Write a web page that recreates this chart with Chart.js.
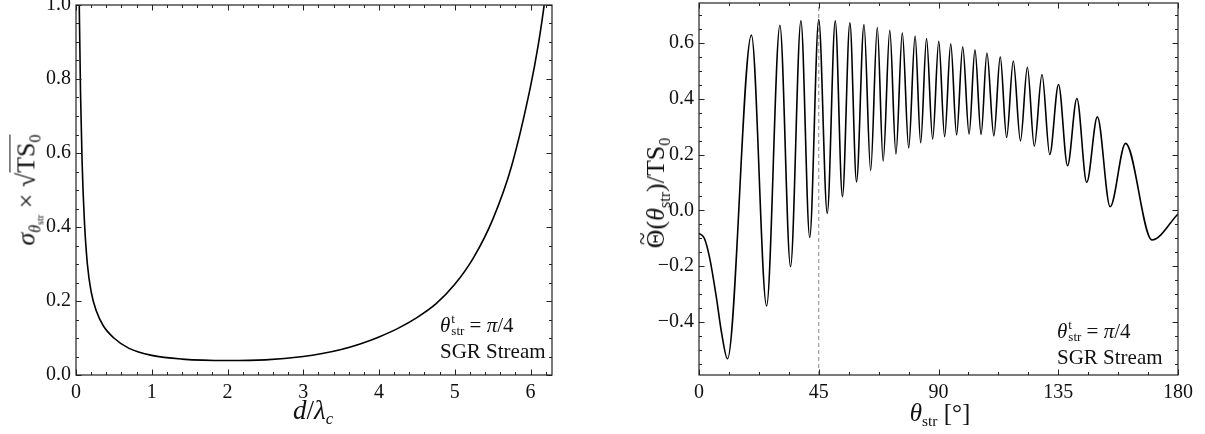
<!DOCTYPE html>
<html>
<head>
<meta charset="utf-8">
<script src="https://cdn.jsdelivr.net/npm/chart.js@4.4.1/dist/chart.umd.min.js"></script>
<style>
  body { margin: 0; background: #fff; }
  #wrap { position: relative; width: 1205px; height: 434px; overflow: hidden;
          font-family: "Liberation Serif", "DejaVu Serif", serif; color: #111; }
  canvas { position: absolute; top: 0; }
  .lbl { position: absolute; white-space: nowrap; transform: translate(-50%, -50%); font-size: 25px; line-height: 1; }
  .rot { transform: translate(-50%, -50%) rotate(-90deg); }
  .note { position: absolute; font-size: 21px; line-height: 26px; white-space: nowrap; text-align: left; }
  sub, sup { font-size: 62%; line-height: 0; }
  sub { vertical-align: -0.35em; }
  .ss { display: inline-block; vertical-align: -0.25em; font-size: 62%; line-height: 0.95; margin-left: 1px; }
  .ss span { display: block; }
  .rad { border-top: 1.2px solid #111; padding-top: 1px; }
  .tl { position: relative; display: inline-block; }
  .tl .t { position: absolute; left: 0.14em; top: -0.5em; font-size: 90%; }
</style>
</head>
<body>
<div id="wrap">
  <canvas id="sigmaChart" width="560" height="434" style="left:0"></canvas>
  <canvas id="thetaChart" width="605" height="434" style="left:600px"></canvas>

  <div class="lbl rot" style="left:27px; top:190px; font-size:26px;"><i>σ</i><sub><i>θ</i><sub>str</sub></sub> × √<span class="rad">TS<sub>0</sub></span></div>
  <div class="lbl" style="left:313px; top:410px; font-size:27px;"><i>d</i>/<i>λ</i><sub><i>c</i></sub></div>
  <div class="note" style="left:440px; top:312px;"><i>θ</i><span class="ss"><span>t</span><span>str</span></span> = <i>π</i>/4<br>SGR Stream</div>

  <div class="lbl rot" style="left:656px; top:193px; font-size:26px;"><span class="tl">Θ<span class="t">~</span></span>(<i>θ</i><sub>str</sub>)/TS<sub>0</sub></div>
  <div class="lbl" style="left:940px; top:412px;"><i>θ</i><sub>str</sub> [°]</div>
  <div class="note" style="left:1057px; top:318px;"><i>θ</i><span class="ss"><span>t</span><span>str</span></span> = <i>π</i>/4<br>SGR Stream</div>
</div>
<script>
// left panel: sigma vs d/lambda_c
const dValues = [0.035, 0.045, 0.06, 0.08, 0.11, 0.15, 0.2, 0.27, 0.36, 0.5, 0.7, 1.0, 1.4, 2.0, 2.5, 3.0, 3.25, 3.5, 3.75, 4.0, 4.25, 4.5, 4.75, 5.0, 5.25, 5.5, 5.75, 6.0, 6.1, 6.17, 6.25];
const sigmaValues = [1.15, 0.97, 0.76, 0.58, 0.42, 0.30, 0.225, 0.172, 0.133, 0.100, 0.072, 0.053, 0.043, 0.039, 0.041, 0.050, 0.058, 0.069, 0.084, 0.103, 0.126, 0.155, 0.192, 0.245, 0.318, 0.42, 0.565, 0.78, 0.89, 0.985, 1.11];
const dTicks = [0, 1, 2, 3, 4, 5, 6];
const sigmaTicks = [0, 0.2, 0.4, 0.6, 0.8, 1.0];

// right panel: Theta~ vs theta_str (deg)
const thetaValues = [0, 2, 4, 6.5, 8.5, 10.7, 19.7, 25.4, 30.4, 34.4, 38.3, 41.6, 45.0, 48.2, 51.2, 53.9, 56.7, 59.2, 62.0, 64.5,
  67.0, 69.2, 71.7, 74.0, 76.4, 78.8, 81.2, 83.3, 85.5, 87.8, 90.1, 92.3, 94.6, 96.8, 99.1, 101.5, 103.7, 106.0, 108.2, 110.8,
  113.2, 115.6, 118.1, 120.8, 123.4, 126.0, 128.9, 131.8, 135.1, 138.5, 142.0, 145.7, 149.7, 154.5, 160.3, 170.2, 180];
const tsValues = [-0.082, -0.10, -0.17, -0.31, -0.44, -0.532, 0.628, -0.343, 0.663, -0.202, 0.679, -0.097, 0.684, -0.011, 0.679, 0.049, 0.672, 0.102, 0.666, 0.143,
  0.655, 0.177, 0.645, 0.202, 0.636, 0.224, 0.625, 0.242, 0.616, 0.255, 0.606, 0.264, 0.597, 0.270, 0.586, 0.273, 0.575, 0.272, 0.564, 0.267,
  0.550, 0.261, 0.535, 0.249, 0.513, 0.230, 0.487, 0.200, 0.451, 0.160, 0.401, 0.100, 0.335, 0.013, 0.240, -0.106, -0.013];
const thetaTicks = [0, 45, 90, 135, 180];
const tsTicks = [-0.4, -0.2, 0.0, 0.2, 0.4, 0.6];
const markerTheta = 45;

const tickFont = { family: '"Liberation Serif", "DejaVu Serif", serif', size: 20 };

// inward ticks on all four sides + frame
const frameTicks = {
  id: 'frameTicks',
  afterDatasetsDraw(chart, args, o) {
    const { ctx, chartArea: a, scales: { x, y } } = chart;
    ctx.save();
    ctx.strokeStyle = '#222';
    ctx.lineWidth = 1;
    ctx.beginPath();
    const xs = (vals, len) => vals.forEach(v => {
      const p = Math.round(x.getPixelForValue(v)) + 0.5;
      ctx.moveTo(p, a.bottom); ctx.lineTo(p, a.bottom - len);
      ctx.moveTo(p, a.top); ctx.lineTo(p, a.top + len);
    });
    const ys = (vals, len) => vals.forEach(v => {
      const p = Math.round(y.getPixelForValue(v)) + 0.5;
      ctx.moveTo(a.left, p); ctx.lineTo(a.left + len, p);
      ctx.moveTo(a.right, p); ctx.lineTo(a.right - len, p);
    });
    const minor = (lo, hi, step) => {
      const out = [];
      for (let v = Math.ceil(lo / step) * step; v <= hi + 1e-9; v += step) out.push(v);
      return out;
    };
    xs(minor(x.min, x.max, o.xMinor), 3);
    ys(minor(y.min, y.max, o.yMinor), 3);
    xs(o.xMajor, 5.5);
    ys(o.yMajor, 5.5);
    ctx.stroke();
    ctx.lineWidth = 1.2;
    ctx.strokeRect(a.left, a.top, a.right - a.left, a.bottom - a.top);
    ctx.restore();
  }
};

function panel(id, datasets, o) {
  return new Chart(document.getElementById(id), {
    type: 'line',
    data: { datasets },
    options: {
      responsive: false,
      animation: false,
      events: [],
      layout: { padding: o.pad },
      plugins: {
        legend: { display: false },
        tooltip: { enabled: false },
        frameTicks: { xMajor: o.xTicks, yMajor: o.yTicks, xMinor: o.xMinor, yMinor: o.yMinor },
      },
      scales: {
        x: {
          type: 'linear', min: o.xMin, max: o.xMax,
          grid: { display: false, drawTicks: false }, border: { display: false },
          ticks: { font: tickFont, color: '#111', padding: 6, maxRotation: 0, autoSkip: false, callback: v => String(v) },
          afterBuildTicks: s => { s.ticks = o.xTicks.map(v => ({ value: v })); },
          afterFit: s => { s.height = o.xh; s.paddingLeft = 0; s.paddingRight = 0; },
        },
        y: {
          type: 'linear', min: o.yMin, max: o.yMax,
          grid: { display: false, drawTicks: false }, border: { display: false },
          ticks: { font: tickFont, color: '#111', padding: 5, autoSkip: false,
                   callback: v => v.toFixed(1).replace('-', '\u2212') },
          afterBuildTicks: s => { s.ticks = o.yTicks.map(v => ({ value: v })); },
          afterFit: s => { s.width = o.yw; s.paddingTop = 0; s.paddingBottom = 0; },
        },
      },
    },
    plugins: [frameTicks],
  });
}

const curve = (xs, ys) => ({
  data: xs.map((v, i) => ({ x: v, y: ys[i] })),
  borderColor: '#000', borderWidth: 1.6, pointRadius: 0,
  cubicInterpolationMode: 'monotone', fill: false,
});

panel('sigmaChart', [curve(dValues, sigmaValues)], {
  xMin: 0, xMax: 6.2832, yMin: 0, yMax: 1.0,
  xTicks: dTicks, yTicks: sigmaTicks, xMinor: 0.2, yMinor: 0.05,
  pad: { left: 0, right: 8, top: 5, bottom: 0 }, xh: 59, yw: 76,
});

const tsMin = -0.59, tsMax = 0.743;
panel('thetaChart', [
  curve(thetaValues, tsValues),
  {
    data: [{ x: markerTheta, y: tsMin }, { x: markerTheta, y: tsMax }],
    borderColor: '#888', borderWidth: 1, borderDash: [4, 3], pointRadius: 0, fill: false,
  },
], {
  xMin: 0, xMax: 180, yMin: tsMin, yMax: tsMax,
  xTicks: thetaTicks, yTicks: tsTicks, xMinor: 11.25, yMinor: 0.05,
  pad: { left: 0, right: 27, top: 3, bottom: 0 }, xh: 59, yw: 99,
});
</script>
</body>
</html>
